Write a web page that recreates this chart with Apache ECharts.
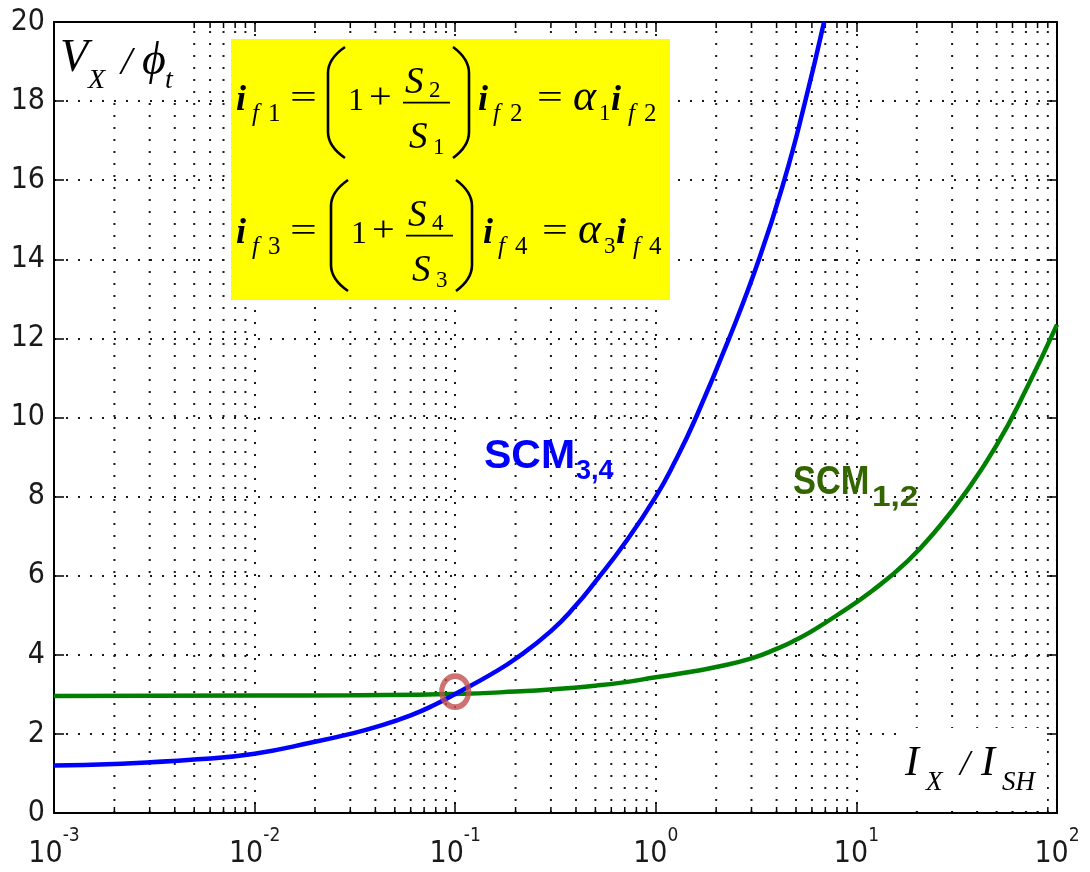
<!DOCTYPE html>
<html>
<head>
<meta charset="utf-8">
<script src="https://cdn.jsdelivr.net/npm/echarts@6/dist/echarts.min.js"></script>
<style>
  html, body { margin: 0; padding: 0; background: #ffffff; }
  #chart { width: 1090px; height: 872px; }
</style>
</head>
<body>
<div id="chart"></div>
<script>
// Output voltage of the two self-cascode mirrors versus normalised current

// Decade exponents of the logarithmic current axis
const xTickExponents = [-3, -2, -1, 0, 1, 2];
// Sub-decade positions for the minor grid (2..9 in every decade)
const minorMultipliers = [2, 3, 4, 5, 6, 7, 8, 9];
// Voltage axis ticks
const yTicks = [0, 2, 4, 6, 8, 10, 12, 14, 16, 18, 20];

// SCM 3,4 (blue)
const scm34X = [0.001, 0.002, 0.005, 0.01, 0.02, 0.03, 0.04, 0.06, 0.08, 0.1, 0.15, 0.2, 0.3, 0.4, 0.5, 0.7, 1.0, 1.25, 1.57, 2.32, 3.27, 4.37, 5.5, 6.9];
const scm34Y = [1.20, 1.24, 1.35, 1.50, 1.80, 2.00, 2.17, 2.47, 2.75, 3.01, 3.50, 3.90, 4.60, 5.25, 5.85, 6.82, 8.00, 8.90, 9.95, 12.0, 14.0, 16.0, 17.9, 20.0];

// SCM 1,2 (green)
const scm12X = [0.001, 0.01, 0.03, 0.1, 0.2, 0.333, 0.5, 0.662, 1.0, 1.5, 2.0, 3.0, 4.0, 5.0, 6.0, 8.0, 12.0, 18.0, 25.0, 35.0, 50.0, 70.0, 100];
const scm12Y = [2.96, 2.97, 2.98, 3.01, 3.07, 3.14, 3.22, 3.29, 3.43, 3.57, 3.69, 3.91, 4.15, 4.38, 4.60, 5.00, 5.62, 6.37, 7.15, 8.10, 9.30, 10.70, 12.35];

// Point where both curves meet
const crossing = [0.1, 3.07];

const X_MIN = Math.pow(10, xTickExponents[0]);
const X_MAX = Math.pow(10, xTickExponents[xTickExponents.length - 1]);
const Y_MIN = yTicks[0];
const Y_MAX = yTicks[yTicks.length - 1];

const minorX = [];
xTickExponents.slice(0, -1).forEach(function (e) {
  minorMultipliers.forEach(function (m) { minorX.push([m * Math.pow(10, e), 0]); });
});

const TICK_FONT = '"Liberation Sans Narrow", "DejaVu Sans Condensed", "Arial Narrow", sans-serif';
const SERIF = '"Liberation Serif", "Times New Roman", serif';
const SANS = '"Liberation Sans", Arial, sans-serif';
const INK = '#1a1a1a';
const DOT = [2, 10];
const BASE_SIZE = 30;
const EXP_SIZE = 19;

function axisBase(position, showLabel) {
  return {
    position: position,
    axisLine: { show: true, onZero: false, lineStyle: { color: '#000', width: 2 } },
    axisTick: { show: true, inside: true, length: 10, lineStyle: { color: '#000', width: 1.5 } },
    axisLabel: { show: showLabel },
    splitLine: { show: false }
  };
}

// graphic text helper
function txt(x, y, s, size, extra, sx) {
  const el = {
    type: 'text', x: x, y: y, z: 30,
    style: Object.assign({
      text: s, fontFamily: SERIF, fontSize: size, fontStyle: 'normal',
      fontWeight: 'normal', fill: '#000', align: 'left', verticalAlign: 'middle'
    }, extra || {})
  };
  if (sx) { el.scaleX = sx; }
  return el;
}
const IT = { fontStyle: 'italic' };
const BI = { fontStyle: 'italic', fontWeight: 'bold' };

// tall bracket: curved ends joined by a straight stem
function paren(xStem, xTip, top, bottom) {
  const r = 26;
  const st = { stroke: '#000', lineWidth: 2.6, fill: null };
  return [
    { type: 'bezierCurve', z: 30, shape: { x1: xTip, y1: top, cpx1: xStem, cpy1: top + r * 0.45, x2: xStem, y2: top + r }, style: st },
    { type: 'line', z: 30, shape: { x1: xStem, y1: top + r, x2: xStem, y2: bottom - r }, style: st },
    { type: 'bezierCurve', z: 30, shape: { x1: xStem, y1: bottom - r, cpx1: xStem, cpy1: bottom - r * 0.45, x2: xTip, y2: bottom }, style: st }
  ];
}

// one line of the form  i_a = (1 + S_n / S_d) i_b = alpha_k i_b
function equation(B, dx1, dx2, s) {
  return [
    txt(236, B - 12, 'i', 36, BI),
    txt(252, B + 1, 'f', 25, IT),
    txt(268, B + 1, s.a, 25),
    txt(290, B - 14, '=', 34, null, 1.4)
  ].concat(
    paren(328 + dx1, 345 + dx1, B - 66, B + 45),
    [
      txt(348 + dx1, B - 11, '1', 32),
      txt(369 + dx1, B - 14, '+', 35, null, 1.15),
      txt(405 + dx1, B - 30, 'S', 37, IT),
      txt(429 + dx1, B - 22.5, s.n, 23),
      { type: 'line', z: 30, shape: { x1: 403 + dx1, y1: B - 10.3, x2: 450 + dx1, y2: B - 10.3 }, style: { stroke: '#000', lineWidth: 1.8 } },
      txt(409 + dx1, B + 25, 'S', 37, IT),
      txt(433 + dx1, B + 34.5, s.d, 23)
    ],
    paren(469 + dx1, 453 + dx1, B - 66, B + 45),
    [
      txt(478 + dx2, B - 12, 'i', 36, BI),
      txt(493 + dx2, B + 1, 'f', 25, IT),
      txt(510 + dx2, B + 1, s.b, 25),
      txt(537 + dx2, B - 14, '=', 34, null, 1.35),
      txt(573 + dx2, B - 15, '\u03b1', 44, IT),
      txt(599 + dx2, B + 1, s.k, 23),
      txt(611 + dx2, B - 12, 'i', 36, BI),
      txt(628 + dx2, B + 1, 'f', 25, IT),
      txt(644 + dx2, B + 1, s.b, 25)
    ]
  );
}

const greenLabel = { fontFamily: SANS, fontWeight: 'bold', fill: '#336600' };
const blueLabel = { fontFamily: SANS, fontWeight: 'bold', fill: '#0000ff' };

const graphics = [
  // equation panel
  { type: 'rect', z: 20, shape: { x: 231, y: 39, width: 439, height: 261 }, style: { fill: '#ffff00' } },
  // white backing for the axis names
  { type: 'rect', z: 20, shape: { x: 55, y: 23, width: 128, height: 75 }, style: { fill: '#ffffff' } },
  { type: 'rect', z: 20, shape: { x: 903, y: 728, width: 144, height: 83 }, style: { fill: '#ffffff' } },

  // V_X / phi_t
  txt(60, 59, 'V', 46, IT),
  txt(88, 81, 'X', 28, IT),
  txt(121, 63, '/', 40, IT),
  txt(142, 62, '\u03d5', 46, IT),
  txt(165, 81, 't', 28, IT),

  // I_X / I_SH
  txt(905, 764, 'I', 42, IT),
  txt(926, 783, 'X', 27, IT),
  txt(960, 766, '/', 36, IT),
  txt(981, 764, 'I', 42, IT),
  txt(1002, 783, 'SH', 27, IT),

  // curve names
  txt(484, 457, 'SCM', 41, blueLabel),
  txt(576, 472, '3,4', 27, blueLabel),
  txt(793, 482.5, 'SCM', 40, greenLabel, 0.86),
  txt(872, 497.5, '1,2', 29, greenLabel, 1.15)
].concat(
  equation(113, 0, 0, { a: '1', n: '2', d: '1', b: '2', k: '1' }),
  equation(246, 3, 5, { a: '3', n: '4', d: '3', b: '4', k: '3' })
);

const chart = echarts.init(document.getElementById('chart'), null, { renderer: 'canvas' });

const xBottom = Object.assign(axisBase('bottom', false), {
  type: 'log', logBase: 10, min: X_MIN, max: X_MAX,
  splitLine: { show: true, lineStyle: { color: INK, width: 2, type: DOT } }
});
const xTop = Object.assign(axisBase('top', false), {
  type: 'log', logBase: 10, min: X_MIN, max: X_MAX
});
const yLeft = Object.assign(axisBase('left', true), {
  type: 'value', min: Y_MIN, max: Y_MAX, interval: 2,
  axisLabel: { show: true, margin: 9, fontFamily: TICK_FONT, fontSize: 30, color: INK },
  splitLine: { show: true, lineStyle: { color: INK, width: 2, type: DOT } }
});
const yRight = Object.assign(axisBase('right', false), {
  type: 'value', min: Y_MIN, max: Y_MAX, interval: 2
});

chart.setOption({
  animation: false,
  backgroundColor: '#ffffff',
  grid: { left: 54, right: 33, top: 22, bottom: 59, containLabel: false, outerBoundsMode: 'none' },
  xAxis: [xBottom, xTop],
  yAxis: [yLeft, yRight],
  series: [
    {
      // minor decade grid with matching inner ticks
      type: 'custom', xAxisIndex: 0, yAxisIndex: 0, z: 1, silent: true,
      data: minorX,
      renderItem: function (params, api) {
        const pb = api.coord([api.value(0), Y_MIN]);
        const pt = api.coord([api.value(0), Y_MAX]);
        return {
          type: 'group',
          children: [
            { type: 'line', shape: { x1: pb[0], y1: pb[1], x2: pt[0], y2: pt[1] },
              style: { stroke: INK, lineWidth: 2, lineDash: DOT } },
            { type: 'line', shape: { x1: pb[0], y1: pb[1], x2: pb[0], y2: pb[1] - 6 },
              style: { stroke: '#000', lineWidth: 1.5 } },
            { type: 'line', shape: { x1: pt[0], y1: pt[1], x2: pt[0], y2: pt[1] + 6 },
              style: { stroke: '#000', lineWidth: 1.5 } }
          ]
        };
      }
    },
    {
      name: 'SCM1,2', type: 'line', xAxisIndex: 0, yAxisIndex: 0, z: 5,
      data: scm12X.map(function (x, i) { return [x, scm12Y[i]]; }),
      smooth: 0.5, showSymbol: false,
      lineStyle: { color: '#008000', width: 4.5 }
    },
    {
      name: 'SCM3,4', type: 'line', xAxisIndex: 0, yAxisIndex: 0, z: 6,
      data: scm34X.map(function (x, i) { return [x, scm34Y[i]]; }),
      smooth: 0.5, showSymbol: false,
      lineStyle: { color: '#0000ff', width: 4.5 }
    },
    {
      type: 'scatter', xAxisIndex: 0, yAxisIndex: 0, z: 8,
      data: [crossing],
      symbol: 'circle', symbolSize: [27, 31],
      itemStyle: { color: 'rgba(0,0,0,0)', borderColor: '#c0504d', borderWidth: 5.5 }
    }
  ]
});

// Decade labels 10^n under the log axis, centred on each tick
const measureCtx = document.createElement('canvas').getContext('2d');
function textWidth(s, size) {
  measureCtx.font = size + 'px ' + TICK_FONT;
  return measureCtx.measureText(s).width;
}
const axisY = chart.convertToPixel({ yAxisIndex: 0 }, Y_MIN);
const decadeLabels = [];
xTickExponents.forEach(function (e) {
  const px = chart.convertToPixel({ xAxisIndex: 0 }, Math.pow(10, e));
  const wb = textWidth('10', BASE_SIZE);
  const we = textWidth(String(e), EXP_SIZE);
  const left = px - (wb + we) / 2;
  decadeLabels.push(
    { type: 'text', x: left, y: axisY + 41, z: 30,
      style: { text: '10', fontFamily: TICK_FONT, fontSize: BASE_SIZE, fill: INK, align: 'left', verticalAlign: 'middle' } },
    { type: 'text', x: left + wb, y: axisY + 23.5, z: 30,
      style: { text: String(e), fontFamily: TICK_FONT, fontSize: EXP_SIZE, fill: INK, align: 'left', verticalAlign: 'middle' } }
  );
});

chart.setOption({ graphic: { elements: graphics.concat(decadeLabels) } });
</script>
</body>
</html>
